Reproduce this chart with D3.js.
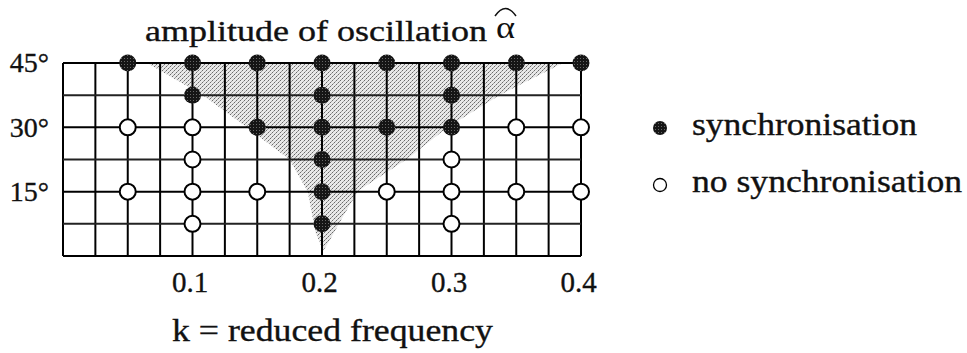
<!DOCTYPE html>
<html>
<head>
<meta charset="utf-8">
<script src="https://cdn.jsdelivr.net/npm/d3@7"></script>
<style>
  body { margin: 0; background: #fff; }
  svg { display: block; }
  text { font-family: "Liberation Serif", "DejaVu Serif", serif; fill: #111; stroke: #111; stroke-width: 0.35px; }
</style>
</head>
<body>
<script>
// Data
const kTicks = [0.1, 0.2, 0.3, 0.4];
const alphaTicks = [15, 30, 45];
const kGrid = d3.range(0, 0.4001, 0.025);
const alphaGrid = d3.range(0, 45.01, 7.5);

// [k, amplitude in degrees]
const syncPoints = [
  [0.05, 45], [0.1, 45], [0.15, 45], [0.2, 45], [0.25, 45], [0.3, 45], [0.35, 45], [0.4, 45],
  [0.1, 37.5], [0.2, 37.5], [0.3, 37.5],
  [0.15, 30], [0.2, 30], [0.25, 30], [0.3, 30],
  [0.2, 22.5], [0.2, 15], [0.2, 7.5]
];
const noSyncPoints = [
  [0.05, 30], [0.1, 30], [0.35, 30], [0.4, 30],
  [0.1, 22.5], [0.3, 22.5],
  [0.05, 15], [0.1, 15], [0.15, 15], [0.25, 15], [0.3, 15], [0.35, 15], [0.4, 15],
  [0.1, 7.5], [0.3, 7.5]
];

// shaded synchronisation region, left edge top->bottom, right edge bottom->top
const shadeLeft = [[0.065, 45], [0.108, 37.5], [0.142, 30], [0.175, 22.5], [0.189, 15], [0.195, 5.5], [0.201, 1.2]];
const shadeRight = [[0.206, 3.7], [0.216, 9.1], [0.228, 15.2], [0.266, 22.7], [0.297, 30], [0.337, 37.5], [0.386, 45]];

const legendItems = [
  { label: 'synchronisation', filled: true },
  { label: 'no synchronisation', filled: false }
];

const width = 967, height = 353;
const plot = { left: 63, right: 581, top: 63, bottom: 256 };

const svg = d3.select('body').append('svg')
  .attr('width', width)
  .attr('height', height);

const x = d3.scaleLinear().domain([0, 0.4]).range([plot.left, plot.right]);
const y = d3.scaleLinear().domain([0, 45]).range([plot.bottom, plot.top]);

// stipple pattern for the shaded area
const defs = svg.append('defs');
const pat = defs.append('pattern')
  .attr('id', 'stipple')
  .attr('patternUnits', 'userSpaceOnUse')
  .attr('width', 4).attr('height', 4);
pat.append('rect').attr('width', 4).attr('height', 4).attr('fill', '#e8e8e8');
[[0, 0], [2, 2], [1, 3], [3, 1]].forEach(([px, py], i) => {
  pat.append('rect').attr('x', px).attr('y', py).attr('width', 1).attr('height', 1)
    .attr('fill', i < 2 ? '#6a6a6a' : '#a0a0a0');
});

const dotPat = defs.append('pattern')
  .attr('id', 'dotfill')
  .attr('patternUnits', 'userSpaceOnUse')
  .attr('width', 3).attr('height', 3);
dotPat.append('rect').attr('width', 3).attr('height', 3).attr('fill', '#151515');
dotPat.append('rect').attr('x', 1).attr('y', 1).attr('width', 1).attr('height', 1).attr('fill', '#666');

// Shaded region
const shade = shadeLeft.concat(shadeRight);
svg.append('path')
  .attr('d', d3.line().x(d => x(d[0])).y(d => y(d[1]))(shade) + 'Z')
  .attr('fill', 'url(#stipple)');

// Grid
const grid = svg.append('g').attr('class', 'grid')
  .attr('stroke', '#000').attr('stroke-width', 2);

grid.selectAll('line.v')
  .data(kGrid)
  .enter().append('line')
  .attr('class', 'v')
  .attr('x1', d => x(d)).attr('x2', d => x(d))
  .attr('y1', plot.top).attr('y2', plot.bottom);

grid.selectAll('line.h')
  .data(alphaGrid)
  .enter().append('line')
  .attr('class', 'h')
  .attr('x1', plot.left).attr('x2', plot.right)
  .attr('y1', d => y(d)).attr('y2', d => y(d))
  .attr('stroke', d => (d % 15 === 0 ? '#000' : '#222'));

// Axes (labels only)
const xAxis = svg.append('g')
  .attr('transform', `translate(0,${plot.bottom})`)
  .call(d3.axisBottom(x).tickValues(kTicks).tickSize(0).tickPadding(0).tickFormat(d3.format('.1f')));
xAxis.select('.domain').remove();
xAxis.selectAll('text')
  .attr('y', 36).attr('dy', 0)
  .attr('dx', -3)
  .style('font-size', '29px')
  .attr('fill', '#111');

const yAxis = svg.append('g')
  .attr('transform', 'translate(49,0)')
  .call(d3.axisLeft(y).tickValues(alphaTicks).tickSize(0).tickPadding(0).tickFormat(d => d + '°'));
yAxis.select('.domain').remove();
yAxis.selectAll('text')
  .attr('x', 0).attr('dy', '0.32em')
  .style('font-size', '28px')
  .attr('fill', '#111');

// Points
svg.append('g').selectAll('circle')
  .data(noSyncPoints)
  .enter().append('circle')
  .attr('cx', d => x(d[0])).attr('cy', d => y(d[1]))
  .attr('r', 8)
  .attr('fill', '#fff')
  .attr('stroke', '#000')
  .attr('stroke-width', 2);

svg.append('g').selectAll('circle')
  .data(syncPoints)
  .enter().append('circle')
  .attr('cx', d => x(d[0])).attr('cy', d => y(d[1]))
  .attr('r', 8.5)
  .attr('fill', 'url(#dotfill)');

// Title
svg.append('text')
  .attr('x', 145).attr('y', 41)
  .attr('textLength', 342)
  .attr('lengthAdjust', 'spacingAndGlyphs')
  .style('font-size', '30px')
  .text('amplitude of oscillation');
svg.append('text')
  .attr('x', 496).attr('y', 38)
  .attr('textLength', 19)
  .attr('lengthAdjust', 'spacingAndGlyphs')
  .style('font-size', '31px')
  .style('stroke-width', '0px')
  .text('α');
svg.append('path')
  .attr('d', 'M495,16 Q505.5,1 516,16')
  .attr('fill', 'none')
  .attr('stroke', '#111')
  .attr('stroke-width', 1.5);

// x-axis title
svg.append('text')
  .attr('x', 172).attr('y', 341)
  .attr('textLength', 321)
  .attr('lengthAdjust', 'spacingAndGlyphs')
  .style('font-size', '32px')
  .text('k = reduced frequency');

// Legend
const legend = svg.append('g').attr('transform', 'translate(660,128)');
const li = legend.selectAll('g')
  .data(legendItems)
  .enter().append('g')
  .attr('transform', (_d, i) => `translate(0,${i * 57})`);
li.append('circle')
  .attr('r', d => (d.filled ? 7 : 6.5))
  .attr('fill', d => (d.filled ? 'url(#dotfill)' : '#fff'))
  .attr('stroke', d => (d.filled ? 'none' : '#000'))
  .attr('stroke-width', 1.3);
li.append('text')
  .attr('x', 32).attr('y', 7)
  .attr('textLength', d => (d.filled ? 225 : 270))
  .attr('lengthAdjust', 'spacingAndGlyphs')
  .style('font-size', '31px')
  .text(d => d.label);
</script>
</body>
</html>
